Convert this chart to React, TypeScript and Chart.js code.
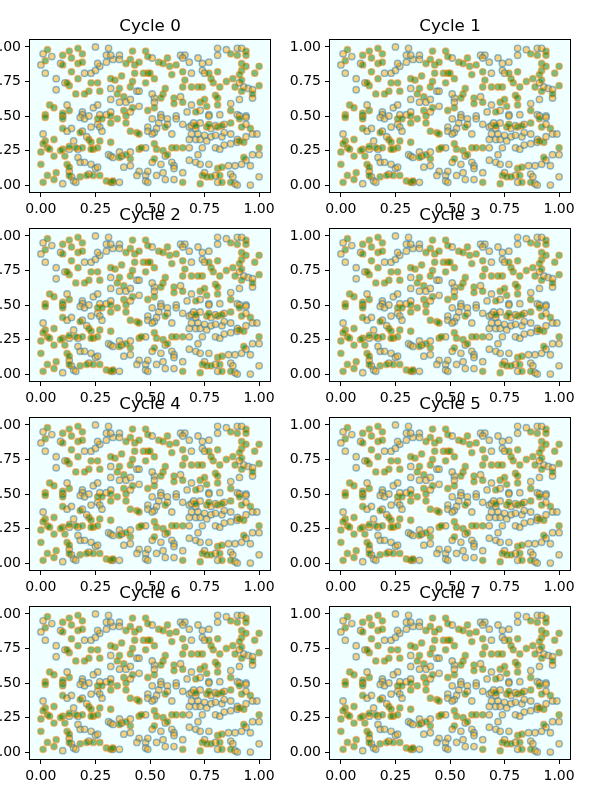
import { useEffect, useRef } from "react"
import { Chart, registerables } from "chart.js"

Chart.register(...registerables)

const CYCLES = [0, 1, 2, 3, 4, 5, 6, 7]
const TICKS = [0, 0.25, 0.5, 0.75, 1.0]

// orange face, blue edge
const ORANGE_PTS: [number, number][] = [
  [0.01, 0.95], [0.05, 0.93], [0.0, 0.87], [0.02, 0.81], [0.09, 0.88], [0.2, 0.81], [0.23, 0.81], [0.25, 0.83],
  [0.27, 0.86], [0.26, 0.88], [0.3, 0.94], [0.3, 0.89], [0.33, 0.91], [0.32, 0.94], [0.36, 0.94], [0.36, 0.91],
  [0.25, 1.0], [0.31, 0.99], [0.07, 0.77], [0.07, 0.69], [0.11, 0.74], [0.32, 0.7], [0.44, 0.68], [0.45, 0.68],
  [0.36, 0.6], [0.39, 0.6], [0.32, 0.62], [0.41, 0.62], [0.45, 0.57], [0.41, 0.53], [0.12, 0.58], [0.19, 0.53],
  [0.19, 0.51], [0.24, 0.56], [0.26, 0.58], [0.27, 0.51], [0.3, 0.51], [0.32, 0.53],
  [0.51, 0.92], [0.64, 0.94], [0.66, 0.94], [0.65, 0.92], [0.68, 0.89], [0.69, 0.81], [0.72, 0.92], [0.74, 0.88],
  [0.77, 0.89], [0.74, 0.83], [0.75, 0.81], [0.81, 0.99], [0.81, 0.94], [0.85, 0.98], [0.9, 0.99], [0.92, 0.99],
  [0.91, 0.74], [0.93, 0.71], [0.95, 0.7], [0.97, 0.69], [0.52, 0.63], [0.51, 0.66], [0.52, 0.6], [0.64, 0.64],
  [0.69, 0.58], [0.87, 0.59], [0.91, 0.62], [0.97, 0.63], [0.77, 0.51], [0.82, 0.51], [0.9, 0.51], [0.94, 0.5],
  [0.73, 0.54], [0.67, 0.53], [0.62, 0.5], [0.55, 0.51],
  [0.1, 0.5], [0.18, 0.49], [0.2, 0.48], [0.22, 0.5], [0.49, 0.42], [0.49, 0.39], [0.01, 0.37], [0.12, 0.39],
  [0.14, 0.41], [0.15, 0.32], [0.19, 0.39], [0.23, 0.42], [0.26, 0.44], [0.27, 0.42], [0.28, 0.39], [0.21, 0.35],
  [0.13, 0.26], [0.17, 0.26], [0.17, 0.2], [0.18, 0.165], [0.2, 0.165], [0.23, 0.15], [0.31, 0.22], [0.32, 0.21],
  [0.33, 0.2], [0.36, 0.24], [0.37, 0.21], [0.41, 0.24], [0.48, 0.27], [0.41, 0.14], [0.45, 0.1], [0.44, 0.07],
  [0.48, 0.07], [0.48, 0.03], [0.49, 0.02], [0.49, 0.1], [0.13, 0.1], [0.14, 0.06], [0.15, 0.03], [0.16, 0.02],
  [0.1, 0.01], [0.22, 0.08], [0.25, 0.12], [0.26, 0.13], [0.33, 0.02], [0.36, 0.02], [0.38, 0.13],
  [0.51, 0.48], [0.54, 0.45], [0.55, 0.49], [0.58, 0.48], [0.58, 0.44], [0.53, 0.41], [0.52, 0.38], [0.51, 0.37],
  [0.57, 0.21], [0.6, 0.37], [0.62, 0.48], [0.65, 0.44], [0.68, 0.42], [0.69, 0.43], [0.71, 0.41], [0.7, 0.45],
  [0.73, 0.45], [0.77, 0.5], [0.78, 0.41], [0.8, 0.43], [0.84, 0.44], [0.91, 0.5], [0.94, 0.49], [0.94, 0.44],
  [0.97, 0.37], [0.99, 0.37], [0.68, 0.33], [0.69, 0.37], [0.71, 0.33], [0.72, 0.37], [0.73, 0.33], [0.75, 0.36],
  [0.76, 0.32], [0.78, 0.35], [0.8, 0.36], [0.83, 0.35], [0.84, 0.38], [0.87, 0.37], [0.9, 0.33], [0.94, 0.35],
  [0.68, 0.27], [0.74, 0.27], [0.8, 0.27], [0.82, 0.26], [0.84, 0.29], [0.87, 0.3], [0.9, 0.31], [0.97, 0.22],
  [1.0, 0.22], [0.94, 0.18], [0.92, 0.15], [0.89, 0.14], [0.86, 0.14], [0.96, 0.14], [0.51, 0.165], [0.55, 0.15],
  [0.6, 0.165], [0.61, 0.14], [0.61, 0.12], [0.68, 0.18], [0.71, 0.165], [0.73, 0.15], [0.72, 0.22], [0.77, 0.15],
  [0.75, 0.09], [0.8, 0.07], [0.81, 0.02], [0.87, 0.08], [0.88, 0.06], [0.89, 0.01], [0.9, 0.0], [0.96, 0.0],
  [1.0, 0.06], [0.53, 0.07], [0.56, 0.09], [0.57, 0.04], [0.61, 0.04], [0.65, 0.09],
]

// green face, orange edge
const GREEN_PTS: [number, number][] = [
  [0.03, 0.98], [0.02, 0.9], [0.1, 0.94], [0.13, 0.97], [0.14, 0.92], [0.19, 0.95], [0.17, 0.99], [0.17, 0.88],
  [0.19, 0.89], [0.1, 0.87], [0.14, 0.82], [0.42, 0.97], [0.41, 0.91], [0.39, 0.88], [0.43, 0.87], [0.45, 0.89],
  [0.48, 0.97], [0.49, 0.93], [0.47, 0.81], [0.49, 0.81], [0.43, 0.81], [0.37, 0.79], [0.34, 0.76], [0.32, 0.77],
  [0.13, 0.72], [0.12, 0.74], [0.16, 0.66], [0.17, 0.77], [0.23, 0.74], [0.22, 0.68], [0.2, 0.66], [0.26, 0.74],
  [0.27, 0.68], [0.36, 0.7], [0.41, 0.71], [0.42, 0.75], [0.48, 0.74], [0.35, 0.66], [0.38, 0.64], [0.49, 0.54],
  [0.38, 0.54], [0.04, 0.58], [0.06, 0.56], [0.02, 0.51], [0.1, 0.52], [0.13, 0.54], [0.42, 0.56],
  [0.5, 0.81], [0.52, 0.77], [0.54, 0.89], [0.56, 0.88], [0.58, 0.92], [0.59, 0.86], [0.6, 0.8], [0.62, 0.87],
  [0.65, 0.82], [0.77, 0.81], [0.81, 0.82], [0.87, 0.95], [0.9, 0.94], [0.94, 0.97], [0.94, 0.94], [0.92, 0.88],
  [0.94, 0.86], [1.0, 0.86], [0.98, 0.81], [0.92, 0.83], [0.91, 0.8], [0.92, 0.76], [0.85, 0.75], [0.88, 0.77],
  [0.89, 0.71], [0.97, 0.66], [0.92, 0.68], [0.82, 0.71], [0.79, 0.74], [0.78, 0.77], [0.74, 0.71], [0.72, 0.71],
  [0.69, 0.71], [0.66, 0.76], [0.65, 0.71], [0.57, 0.7], [0.56, 0.66], [0.55, 0.63], [0.61, 0.63], [0.61, 0.59],
  [0.65, 0.6], [0.73, 0.6], [0.75, 0.62], [0.76, 0.57], [0.8, 0.65], [0.81, 0.63], [0.81, 0.58], [0.87, 0.54],
  [0.71, 0.53], [0.52, 0.56], [1.0, 0.72],
  [0.02, 0.49], [0.1, 0.48], [0.26, 0.48], [0.28, 0.48], [0.32, 0.5], [0.35, 0.48], [0.32, 0.45], [0.39, 0.45],
  [0.39, 0.5], [0.41, 0.39], [0.44, 0.38], [0.45, 0.37], [0.1, 0.41], [0.18, 0.38], [0.22, 0.33], [0.23, 0.31],
  [0.24, 0.26], [0.27, 0.32], [0.32, 0.31], [0.06, 0.33], [0.02, 0.32], [0.01, 0.3], [0.03, 0.27], [0.04, 0.26],
  [0.0, 0.24], [0.06, 0.21], [0.1, 0.26], [0.09, 0.25], [0.11, 0.21], [0.13, 0.28], [0.16, 0.27], [0.19, 0.27],
  [0.23, 0.26], [0.26, 0.27], [0.36, 0.2], [0.39, 0.22], [0.45, 0.26], [0.46, 0.27], [0.41, 0.19], [0.0, 0.15],
  [0.12, 0.15], [0.13, 0.13], [0.13, 0.07], [0.01, 0.02], [0.03, 0.07], [0.06, 0.04], [0.07, 0.09], [0.18, 0.06],
  [0.21, 0.07], [0.24, 0.07], [0.27, 0.07], [0.3, 0.03], [0.32, 0.02], [0.33, 0.03],
  [0.57, 0.42], [0.52, 0.3], [0.53, 0.26], [0.56, 0.25], [0.58, 0.22], [0.71, 0.43], [0.76, 0.42], [0.77, 0.44],
  [0.81, 0.42], [0.83, 0.43], [0.87, 0.45], [0.91, 0.48], [0.92, 0.42], [0.96, 0.41], [0.91, 0.32], [0.93, 0.31],
  [0.6, 0.27], [0.62, 0.27], [0.65, 0.27], [1.0, 0.27], [0.93, 0.2], [0.52, 0.19], [0.81, 0.12], [0.83, 0.13],
  [0.74, 0.07], [0.76, 0.06], [0.78, 0.06], [0.82, 0.07], [0.83, 0.02], [0.87, 0.02], [0.65, 0.02], [0.73, 0.01],
]

// axes placement on the 600x800 page
const COL_LEFT = [30, 330]
const ROW_TOP = [40, 229, 418, 607]

const framePlugin = {
  id: "frame",
  beforeDraw(chart: Chart) {
    const { ctx, chartArea: a } = chart
    ctx.save()
    ctx.fillStyle = "#f0ffff"
    ctx.fillRect(a.left, a.top, a.right - a.left, a.bottom - a.top)
    ctx.restore()
  },
  afterDatasetsDraw(chart: Chart) {
    const { ctx, chartArea: a } = chart
    ctx.save()
    ctx.strokeStyle = "#000"
    ctx.lineWidth = 1
    ctx.strokeRect(
      Math.round(a.left) - 0.5,
      Math.round(a.top) - 0.5,
      Math.round(a.right - a.left) + 1,
      Math.round(a.bottom - a.top) + 1,
    )
    ctx.restore()
  },
}

const tickFont = { family: "DejaVu Sans", size: 14 }

function axis(isX: boolean) {
  return {
    type: "linear" as const,
    min: -0.05,
    max: 1.05,
    afterBuildTicks: (s: any) => {
      s.ticks = TICKS.map((v) => ({ value: v }))
    },
    afterFit: (s: any) => {
      if (isX) {
        s.height = 30
        s.paddingLeft = 0
        s.paddingRight = 0
      } else {
        s.width = 40
        s.paddingTop = 0
        s.paddingBottom = 0
      }
    },
    grid: { drawOnChartArea: false, drawTicks: true, tickLength: 5, color: "#000", lineWidth: 1 },
    border: { display: false },
    ticks: {
      color: "#000",
      font: tickFont,
      padding: 4,
      autoSkip: false,
      maxRotation: 0,
      callback: (v: any) => Number(v).toFixed(2),
    },
  }
}

function Panel({ cycle }: { cycle: number }) {
  const chartRef = useRef<HTMLCanvasElement>(null)
  const chartInstance = useRef<Chart | null>(null)

  useEffect(() => {
    if (!chartRef.current) return
    if (chartInstance.current) chartInstance.current.destroy()
    chartInstance.current = new Chart(chartRef.current, {
      type: "scatter",
      data: {
        datasets: [
          {
            data: GREEN_PTS.map(([x, y]) => ({ x, y })),
            backgroundColor: "rgba(0, 128, 0, 0.5)",
            borderColor: "rgba(255, 127, 14, 0.5)",
            borderWidth: 1.4,
            pointRadius: 3.2,
          },
          {
            data: ORANGE_PTS.map(([x, y]) => ({ x, y })),
            backgroundColor: "rgba(255, 165, 0, 0.5)",
            borderColor: "rgba(31, 119, 180, 0.5)",
            borderWidth: 1.4,
            pointRadius: 3.2,
          },
        ],
      },
      options: {
        responsive: false,
        animation: false,
        events: [],
        layout: { padding: { right: 20 } },
        plugins: {
          legend: { display: false },
          tooltip: { enabled: false },
          title: {
            display: true,
            text: `Cycle ${cycle}`,
            fullSize: false,
            color: "#000",
            font: { family: "DejaVu Sans", size: 16.7, weight: "normal", lineHeight: 1.2 },
            padding: { top: 17, bottom: 3 },
          },
        },
        scales: { x: axis(true), y: axis(false) },
      },
      plugins: [framePlugin],
    })
    return () => {
      if (chartInstance.current) {
        chartInstance.current.destroy()
        chartInstance.current = null
      }
    }
  }, [cycle])

  const col = cycle % 2
  const row = Math.floor(cycle / 2)
  return (
    <div style={{ position: "absolute", left: COL_LEFT[col] - 40, top: ROW_TOP[row] - 40 }}>
      <canvas ref={chartRef} width={300} height={222} style={{ display: "block" }} />
    </div>
  )
}

export default function App() {
  return (
    <div
      style={{
        position: "absolute",
        left: 0,
        top: 0,
        width: 600,
        height: 800,
        overflow: "hidden",
        background: "#fff",
      }}
    >
      {CYCLES.map((c) => (
        <Panel key={c} cycle={c} />
      ))}
    </div>
  )
}
